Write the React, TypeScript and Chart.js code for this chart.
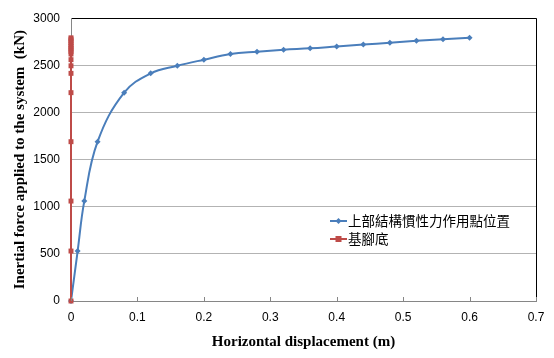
import React, { useEffect, useRef } from "react";
import { Chart, registerables } from "chart.js";
Chart.register(...registerables);

const topLabel = "上部結構慣性力作用點位置";
const baseLabel = "基腳底";
const topDisp = [0, 0.01, 0.02, 0.04, 0.08, 0.12, 0.16, 0.2, 0.24, 0.28, 0.32, 0.36, 0.4, 0.44, 0.48, 0.52, 0.56, 0.6];
const topForce = [0, 530, 1060, 1690, 2210, 2415, 2495, 2560, 2620, 2645, 2665, 2680, 2700, 2720, 2740, 2760, 2778, 2792];
const baseDisp = [0, 0, 0, 0, 0, 0, 0, 0, 0, 0, 0, 0, 0, 0, 0, 0, 0, 0];
const baseForce = [0, 530, 1060, 1690, 2210, 2415, 2495, 2560, 2620, 2645, 2665, 2680, 2700, 2720, 2740, 2760, 2778, 2792];
const xTitle = "Horizontal displacement (m)";
const yTitle = "Inertial force applied to the system  (kN)";

const BLUE = "#4a7ebb";
const RED = "#be4b48";

const legendPlugin = {
  id: "customLegend",
  afterDraw(chart: any) {
    const ctx = chart.ctx;
    const entries = [
      { label: topLabel, color: BLUE, style: "diamond" },
      { label: baseLabel, color: RED, style: "square" },
    ];
    ctx.save();
    entries.forEach((e, i) => {
      const y = 221 + i * 18;
      const x0 = 330;
      ctx.strokeStyle = e.color;
      ctx.lineWidth = 2;
      ctx.beginPath();
      ctx.moveTo(x0, y);
      ctx.lineTo(x0 + 17, y);
      ctx.stroke();
      ctx.fillStyle = e.color;
      const cx = x0 + 8.5;
      if (e.style === "diamond") {
        ctx.beginPath();
        ctx.moveTo(cx, y - 3);
        ctx.lineTo(cx + 3, y);
        ctx.lineTo(cx, y + 3);
        ctx.lineTo(cx - 3, y);
        ctx.closePath();
        ctx.fill();
      } else {
        ctx.fillRect(cx - 3, y - 3, 6, 6);
      }
      ctx.fillStyle = "#000";
      ctx.font = '13.5px "Noto Sans CJK TC"';
      ctx.textBaseline = "middle";
      ctx.textAlign = "left";
      ctx.fillText(e.label, x0 + 18, y);
    });
    ctx.restore();
  },
};

const tickMarkPlugin = {
  id: "inwardTicks",
  afterDatasetsDraw(chart: any) {
    const ctx = chart.ctx;
    const xs = chart.scales.x;
    const bottom = chart.chartArea.bottom;
    ctx.save();
    ctx.strokeStyle = "#868686";
    ctx.lineWidth = 1;
    xs.ticks.forEach((t: any) => {
      const px = Math.round(xs.getPixelForValue(t.value)) + 0.5;
      ctx.beginPath();
      ctx.moveTo(px, bottom);
      ctx.lineTo(px, bottom - 4);
      ctx.stroke();
    });
    ctx.restore();
  },
};

export default function App() {
  const ref = useRef<HTMLCanvasElement>(null);
  useEffect(() => {
    const chart = new Chart(ref.current!, {
      type: "scatter",
      data: {
        datasets: [
          {
            label: baseLabel,
            data: baseDisp.map((x, i) => ({ x, y: baseForce[i] })),
            showLine: true,
            borderColor: RED,
            backgroundColor: RED,
            borderWidth: 2,
            pointStyle: "rect",
            pointRadius: 3.5,
            pointBorderWidth: 0,
            clip: false,
          },
          {
            label: topLabel,
            data: topDisp.map((x, i) => ({ x, y: topForce[i] })),
            showLine: true,
            borderColor: BLUE,
            backgroundColor: BLUE,
            borderWidth: 2,
            tension: 0.4,
            pointStyle: "rectRot",
            pointRadius: 3,
            pointBorderWidth: 0,
            clip: false,
          },
        ],
      },
      options: {
        responsive: false,
        animation: false,
        layout: { padding: { top: 12, right: 18, left: 0, bottom: 0 } },
        plugins: { legend: { display: false }, tooltip: { enabled: false } },
        scales: {
          x: {
            type: "linear",
            min: 0,
            max: 0.7,
            ticks: {
              stepSize: 0.1,
              color: "#000",
              padding: 9,
              font: { family: "Liberation Sans", size: 12 },
              callback: (v: any) => String(Math.round(Number(v) * 10) / 10),
            },
            grid: {
              drawTicks: false,
              color: (c: any) => (c.tick && Math.abs(c.tick.value - 0.7) < 1e-6 ? "#000" : "rgba(0,0,0,0)"),
            },
            border: { color: "#868686" },
            title: {
              display: true,
              text: xTitle,
              color: "#000",
              font: { family: "Liberation Serif", size: 15, weight: "bold" },
              padding: { top: 0, bottom: 7 },
            },
            afterFit: (s: any) => {
              s.height = 57;
            },
          },
          y: {
            min: 0,
            max: 3000,
            ticks: {
              stepSize: 500,
              color: "#000",
              padding: 11,
              font: { family: "Liberation Sans", size: 12 },
              callback: (v: any) => String(v),
            },
            grid: {
              drawTicks: false,
              color: (c: any) => (c.tick && c.tick.value === 3000 ? "#000" : "#b3b3b3"),
            },
            border: { color: "#868686" },
            title: {
              display: true,
              text: yTitle,
              color: "#000",
              font: { family: "Liberation Serif", size: 15, weight: "bold" },
              padding: { top: 11, bottom: 0 },
            },
            afterFit: (s: any) => {
              s.width = 71;
            },
          },
        },
      },
      plugins: [tickMarkPlugin, legendPlugin],
    } as any);
    return () => chart.destroy();
  }, []);
  return (
    <div style={{ position: "fixed", left: 0, top: 0, width: 554, height: 358, background: "#fff" }}>
      <canvas ref={ref} width={554} height={358} style={{ display: "block" }} />
    </div>
  );
}
